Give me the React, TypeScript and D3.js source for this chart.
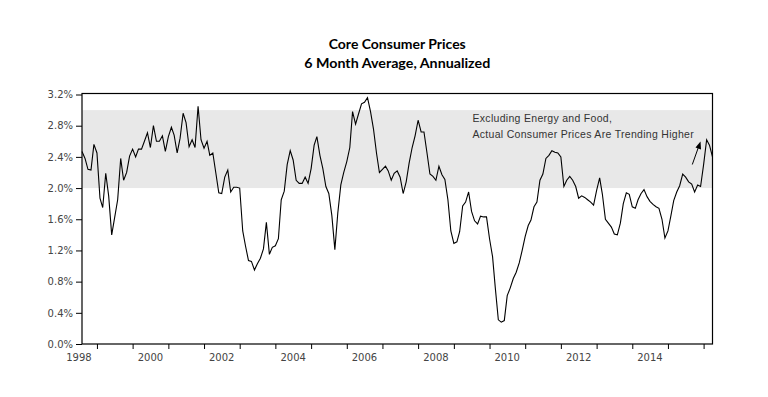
import React, { useEffect, useRef } from 'react';
import * as d3 from 'd3';

// core CPI, 6 month average annualized (%), monthly from Aug 1998
const startMonth = new Date(1998, 7, 1);
const coreCpi6m = [
  2.47, 2.38, 2.24, 2.23, 2.56, 2.45, 1.87, 1.75, 2.19, 1.9, 1.4, 1.62, 1.85, 2.38, 2.1, 2.2, 2.41, 2.5, 2.4, 2.5,
  2.5, 2.6, 2.71, 2.52, 2.8, 2.6, 2.6, 2.67, 2.47, 2.66, 2.78, 2.68, 2.45, 2.64, 2.96, 2.84, 2.53, 2.62, 2.52, 3.05,
  2.62, 2.51, 2.6, 2.42, 2.45, 2.2, 1.94, 1.93, 2.14, 2.23, 1.95, 2.01, 2.01, 2.0, 1.45, 1.26, 1.07, 1.06, 0.95, 1.03,
  1.1, 1.22, 1.56, 1.15, 1.24, 1.26, 1.35, 1.85, 1.96, 2.3, 2.48, 2.36, 2.1, 2.06, 2.06, 2.14, 2.06, 2.25, 2.55, 2.66,
  2.42, 2.25, 2.02, 1.93, 1.65, 1.21, 1.68, 2.04, 2.2, 2.34, 2.52, 2.98, 2.82, 2.95, 3.08, 3.1, 3.16, 2.98, 2.76, 2.45,
  2.2, 2.24, 2.28, 2.22, 2.1, 2.19, 2.22, 2.14, 1.93, 2.08, 2.32, 2.52, 2.67, 2.87, 2.72, 2.72, 2.45, 2.18, 2.15, 2.1,
  2.28, 2.17, 2.11, 1.85, 1.45, 1.29, 1.31, 1.44, 1.77, 1.82, 1.95, 1.7, 1.58, 1.54, 1.64, 1.63, 1.63, 1.35, 1.12, 0.72,
  0.31, 0.28, 0.3, 0.62, 0.72, 0.84, 0.92, 1.04, 1.2, 1.38, 1.52, 1.59, 1.76, 1.82, 2.1, 2.18, 2.38, 2.42, 2.48, 2.46,
  2.45, 2.4, 2.02, 2.1, 2.15, 2.1, 2.02, 1.87, 1.9, 1.88, 1.85, 1.82, 1.78, 1.97, 2.13, 1.92, 1.6, 1.55, 1.5, 1.41,
  1.4, 1.55, 1.8, 1.94, 1.92, 1.76, 1.74, 1.85, 1.93, 1.98, 1.89, 1.83, 1.79, 1.76, 1.74, 1.6, 1.36, 1.45, 1.65, 1.84,
  1.95, 2.03, 2.18, 2.14, 2.08, 2.05, 1.95, 2.04, 2.02, 2.3, 2.62, 2.55, 2.4,
];
const yTicks = [0, 0.4, 0.8, 1.2, 1.6, 2.0, 2.4, 2.8, 3.2];
const labelYears = [1998, 2000, 2002, 2004, 2006, 2008, 2010, 2012, 2014];
const band = [2.0, 3.0];
const titleLines = ['Core Consumer Prices', '6 Month Average, Annualized'];
const titleWidths = [137, 186];
const noteLines = ['Excluding Energy and Food,', 'Actual Consumer Prices Are Trending Higher'];

const W = 768;
const H = 397;
const margin = { top: 94.5, right: 55.5, bottom: 53, left: 82 };

const App = () => {
  const ref = useRef(null);

  useEffect(() => {
    document.body.style.margin = '0';
    const svg = d3.select(ref.current);
    svg.selectAll('*').remove();

    const data = coreCpi6m.map((v, i) => ({ date: d3.timeMonth.offset(startMonth, i), value: v }));

    const x = d3.scaleTime()
      .domain(d3.extent(data, d => d.date))
      .range([margin.left, W - margin.right]);
    const y = d3.scaleLinear()
      .domain([0, 3.2])
      .range([H - margin.bottom, margin.top]);

    // shaded 2-3% band
    svg.append('rect')
      .attr('x', margin.left)
      .attr('width', W - margin.right - margin.left)
      .attr('y', y(band[1]))
      .attr('height', y(band[0]) - y(band[1]))
      .attr('fill', '#e8e8e8');

    // y axis
    const yAxis = d3.axisLeft(y)
      .tickValues(yTicks)
      .tickFormat(d => d3.format('.1f')(d) + '%')
      .tickSize(6)
      .tickPadding(3);
    const gy = svg.append('g')
      .attr('transform', `translate(${margin.left},0)`)
      .call(yAxis);
    gy.select('.domain').remove();
    gy.selectAll('text')
      .attr('font-family', 'DejaVu Sans, Verdana, sans-serif')
      .attr('font-size', 10)
      .attr('fill', '#444');

    // x axis: ticks at year starts, labels mid-year
    const xAxis = d3.axisBottom(x)
      .tickValues(d3.timeYear.range(new Date(1999, 0, 1), new Date(2016, 1, 1)))
      .tickFormat(() => '')
      .tickSize(5);
    const gx = svg.append('g')
      .attr('transform', `translate(0,${H - margin.bottom})`)
      .call(xAxis);
    gx.select('.domain').remove();

    svg.append('g')
      .selectAll('text')
      .data(labelYears)
      .enter().append('text')
      .attr('x', d => x(new Date(d, 6, 1)))
      .attr('y', H - margin.bottom + 17)
      .attr('text-anchor', 'middle')
      .attr('font-family', 'DejaVu Sans, Verdana, sans-serif')
      .attr('font-size', 10)
      .attr('fill', '#444')
      .text(d => d);

    // frame
    svg.append('rect')
      .attr('x', margin.left)
      .attr('y', margin.top - 1)
      .attr('width', W - margin.right - margin.left)
      .attr('height', H - margin.bottom - margin.top + 1)
      .attr('fill', 'none')
      .attr('stroke', '#000')
      .attr('stroke-width', 1.2);

    // series
    const line = d3.line()
      .x(d => x(d.date))
      .y(d => y(d.value));
    svg.append('path')
      .datum(data)
      .attr('d', line)
      .attr('fill', 'none')
      .attr('stroke', '#000')
      .attr('stroke-width', 1.1);

    // title (condensed look via textLength)
    svg.append('g')
      .selectAll('text')
      .data(titleLines)
      .enter().append('text')
      .attr('x', (margin.left + W - margin.right) / 2)
      .attr('y', (d, i) => 49 + i * 19)
      .attr('text-anchor', 'middle')
      .attr('font-family', 'Lato, Roboto, sans-serif')
      .attr('font-weight', 'bold')
      .attr('font-size', 14)
      .attr('textLength', (d, i) => titleWidths[i])
      .attr('lengthAdjust', 'spacingAndGlyphs')
      .attr('fill', '#000')
      .text(d => d);

    // annotation
    svg.append('g')
      .selectAll('text')
      .data(noteLines)
      .enter().append('text')
      .attr('x', 472.5)
      .attr('y', (d, i) => 122 + i * 16)
      .attr('font-family', 'Liberation Sans, Arial, sans-serif')
      .attr('font-size', 10.5)
      .attr('letter-spacing', 0.3)
      .attr('fill', '#333')
      .text(d => d);

    svg.append('line')
      .attr('x1', 692.3).attr('y1', 164.5)
      .attr('x2', 698.5).attr('y2', 147)
      .attr('stroke', '#000')
      .attr('stroke-width', 1);
    svg.append('path')
      .attr('d', 'M700.5,141.5 L701,149.5 L695.5,147.5 Z')
      .attr('fill', '#000');
  }, []);

  return <svg ref={ref} width={W} height={H} style={{ display: 'block', background: '#fff' }} />;
};

export default App;
